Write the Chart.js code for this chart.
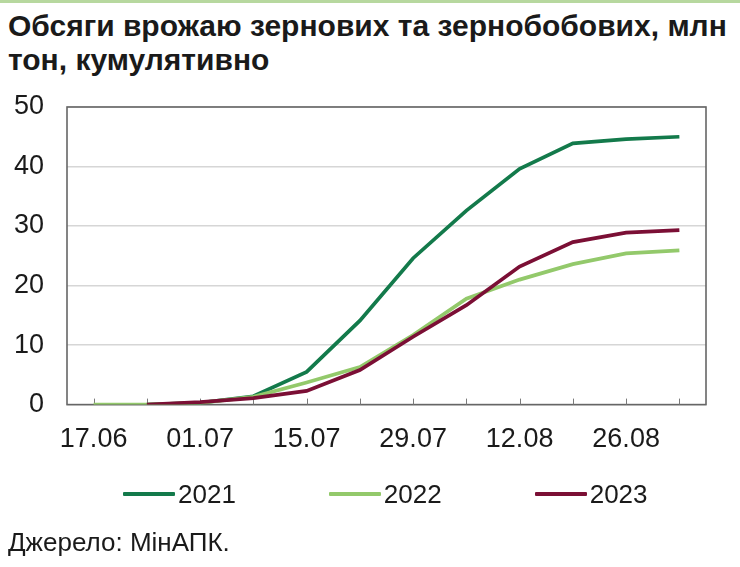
<!DOCTYPE html>
<html>
<head>
<meta charset="utf-8">
<script src="https://cdn.jsdelivr.net/npm/chart.js@4.4.0/dist/chart.umd.min.js"></script>
<style>
  html, body { margin: 0; padding: 0; background: #fff; overflow: hidden; }
  body { width: 740px; height: 567px; position: relative; font-family: "Liberation Sans", Arial, sans-serif; color: #1a1a1a; }
  #band { position: absolute; left: 0; top: 0; width: 740px; height: 3px; background: #b7d89f; }
  #title { position: absolute; left: 8px; top: 9px; font-size: 30px; font-weight: bold; line-height: 34px; white-space: nowrap; }
  #wrap { position: absolute; left: 0; top: 0; width: 740px; height: 567px; }
  #legend { position: absolute; left: 123px; top: 477px; display: flex; gap: 93px; font-size: 26px; line-height: 34px; }
  .item { display: flex; align-items: center; }
  .swatch { width: 52px; height: 4px; margin-right: 3px; border-radius: 1px; }
  #source { position: absolute; left: 8px; top: 525px; font-size: 26px; line-height: 34px; white-space: nowrap; }
</style>
</head>
<body>
<div id="band"></div>
<div id="title">Обсяги врожаю зернових та зернобобових, млн<br>тон, кумулятивно</div>
<div id="wrap"><canvas id="c" width="740" height="567"></canvas></div>
<div id="legend"></div>
<div id="source">Джерело: МінАПК.</div>
<script>
// ---- data ----
const categories = ['17.06','24.06','01.07','08.07','15.07','22.07','29.07','05.08','12.08','19.08','26.08','02.09'];
const tickLabels = ['17.06','','01.07','','15.07','','29.07','','12.08','','26.08',''];
const seriesNames = ['2021','2022','2023'];
const values2021 = [null, 0, 0.3, 1.4, 5.5, 14.1, 24.6, 32.6, 39.6, 43.9, 44.6, 45.0];
const values2022 = [0, 0, 0.3, 1.3, 3.7, 6.3, 11.7, 17.8, 21.0, 23.6, 25.4, 25.9];
const values2023 = [null, 0, 0.4, 1.1, 2.3, 5.8, 11.4, 16.7, 23.2, 27.3, 28.9, 29.3];
const yTicks = [0, 10, 20, 30, 40, 50];
const colors = ['#137a4b', '#93c96b', '#7b0f35'];

// ---- legend (HTML, built from names/colors) ----
const legendEl = document.getElementById('legend');
seriesNames.forEach((n, i) => {
  const it = document.createElement('div'); it.className = 'item';
  const sw = document.createElement('span'); sw.className = 'swatch'; sw.style.background = colors[i];
  const tx = document.createElement('span'); tx.textContent = n;
  it.appendChild(sw); it.appendChild(tx); legendEl.appendChild(it);
});

const frameColor = '#666666';
const framePlugin = {
  id: 'frame',
  beforeDatasetsDraw(chart) {
    const {ctx, chartArea: a, scales: {x}} = chart;
    ctx.save();
    ctx.strokeStyle = frameColor;
    ctx.lineWidth = 1.6;
    ctx.strokeRect(a.left, a.top, a.right - a.left, a.bottom - a.top);
    ctx.lineWidth = 1;
    ctx.strokeStyle = '#7a7a7a';
    for (let i = 0; i < categories.length; i++) {
      const px = Math.round(x.getPixelForValue(i)) + 0.5;
      ctx.beginPath();
      ctx.moveTo(px, a.bottom);
      ctx.lineTo(px, a.bottom - 6);
      ctx.stroke();
    }
    ctx.restore();
  }
};

const mk = (label, data, color, order) => ({
  label, data, borderColor: color, backgroundColor: color,
  borderWidth: 3.7, pointRadius: 0, tension: 0, spanGaps: false, order
});

new Chart(document.getElementById('c'), {
  type: 'line',
  data: {
    labels: categories,
    datasets: [
      mk(seriesNames[0], values2021, colors[0], 2),
      mk(seriesNames[1], values2022, colors[1], 1),
      mk(seriesNames[2], values2023, colors[2], 0)
    ]
  },
  options: {
    responsive: false,
    animation: false,
    devicePixelRatio: 1,
    layout: { padding: { left: 14, right: 34, top: 107, bottom: 100 } },
    plugins: { legend: { display: false }, title: { display: false }, tooltip: { enabled: false } },
    scales: {
      x: {
        offset: true,
        grid: { display: false, offset: false },
        border: { display: false },
        ticks: {
          autoSkip: false, maxRotation: 0, padding: 11,
          color: '#1a1a1a',
          font: { family: 'Liberation Sans', size: 27 },
          callback: (v, i) => tickLabels[i]
        }
      },
      y: {
        min: yTicks[0], max: yTicks[yTicks.length - 1],
        afterBuildTicks: s => { s.ticks = yTicks.map(v => ({ value: v })); },
        afterFit: s => { s.width = 53; },
        grid: { color: '#d6d6d6', lineWidth: 1.5, drawTicks: false },
        border: { display: false },
        ticks: { padding: 23, color: '#1a1a1a', font: { family: 'Liberation Sans', size: 27 } }
      }
    }
  },
  plugins: [framePlugin]
});
</script>
</body>
</html>
